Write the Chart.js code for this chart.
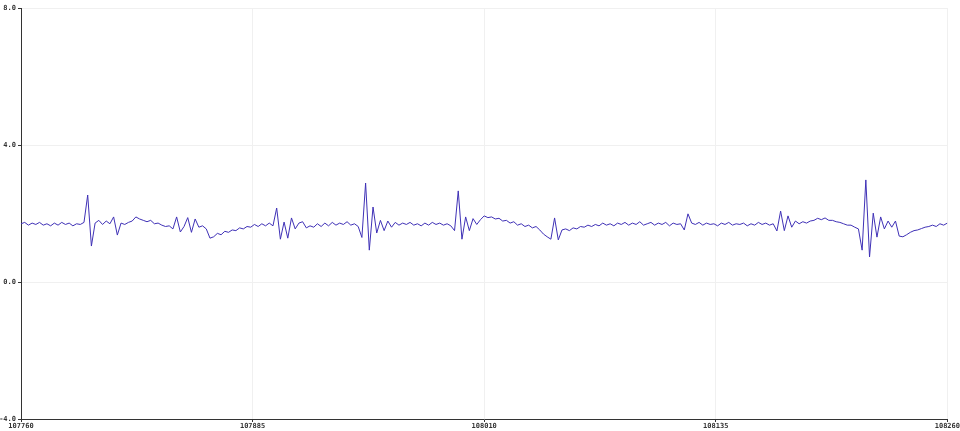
<!DOCTYPE html>
<html>
<head>
<meta charset="utf-8">
<script src="https://cdn.jsdelivr.net/npm/chart.js@4/dist/chart.umd.min.js"></script>
<style>
  html, body { margin: 0; padding: 0; background: #fff; }
  #wrap { width: 960px; height: 431px; position: relative; }
</style>
</head>
<body>
<div id="wrap"><canvas id="signalChart"></canvas></div>
<script>
// sample index range shown on the x axis (every 2nd sample)
const xStart = 107760;
const xStep = 2;
const xTicks = [107760, 107885, 108010, 108135, 108260];
const yTicks = [-4, 0, 4, 8];

const signal = [
  1.70, 1.74, 1.66, 1.72, 1.68, 1.74, 1.66, 1.70, 1.64, 1.72,
  1.66, 1.74, 1.68, 1.72, 1.64, 1.70, 1.68, 1.74, 2.54, 1.05,
  1.72, 1.80, 1.68, 1.78, 1.70, 1.90, 1.37, 1.72, 1.68, 1.74,
  1.78, 1.90, 1.84, 1.80, 1.76, 1.80, 1.70, 1.72, 1.66, 1.62,
  1.64, 1.55, 1.90, 1.46, 1.62, 1.88, 1.45, 1.84, 1.60, 1.64,
  1.55, 1.28, 1.32, 1.42, 1.38, 1.48, 1.45, 1.52, 1.50, 1.58,
  1.55, 1.62, 1.60, 1.68, 1.62, 1.70, 1.64, 1.72, 1.64, 2.16,
  1.25, 1.75, 1.28, 1.87, 1.55, 1.72, 1.76, 1.58, 1.64, 1.60,
  1.70, 1.62, 1.72, 1.64, 1.74, 1.66, 1.72, 1.68, 1.76, 1.66,
  1.70, 1.62, 1.30, 2.89, 0.93, 2.19, 1.43, 1.80, 1.50, 1.78,
  1.60, 1.74, 1.66, 1.72, 1.68, 1.74, 1.66, 1.70, 1.64, 1.72,
  1.66, 1.74, 1.68, 1.72, 1.66, 1.70, 1.64, 1.50, 2.66, 1.25,
  1.90, 1.50, 1.85, 1.68, 1.82, 1.93, 1.88, 1.90, 1.84, 1.86,
  1.78, 1.80, 1.72, 1.76, 1.66, 1.70, 1.62, 1.66, 1.58, 1.62,
  1.52, 1.40, 1.32, 1.25, 1.87, 1.23, 1.52, 1.55, 1.50, 1.58,
  1.55, 1.62, 1.60, 1.66, 1.62, 1.68, 1.64, 1.72, 1.66, 1.70,
  1.64, 1.72, 1.68, 1.74, 1.66, 1.72, 1.68, 1.76, 1.66, 1.70,
  1.74, 1.66, 1.72, 1.68, 1.74, 1.64, 1.72, 1.68, 1.70, 1.52,
  1.99, 1.72, 1.68, 1.74, 1.66, 1.72, 1.68, 1.70, 1.64, 1.72,
  1.68, 1.74, 1.66, 1.70, 1.68, 1.72, 1.64, 1.70, 1.66, 1.74,
  1.68, 1.72, 1.66, 1.70, 1.49, 2.07, 1.50, 1.93, 1.60, 1.78,
  1.70, 1.76, 1.72, 1.78, 1.80, 1.86, 1.82, 1.87, 1.80, 1.80,
  1.76, 1.74, 1.70, 1.66, 1.66, 1.60, 1.55, 0.93, 2.98, 0.73,
  2.01, 1.31, 1.90, 1.55, 1.78, 1.60, 1.78, 1.34, 1.32, 1.38,
  1.45, 1.50, 1.52, 1.56, 1.60, 1.62, 1.66, 1.62, 1.70, 1.66,
  1.72
];

const points = signal.map((v, i) => ({ x: xStart + i * xStep, y: v }));

const tickFont = { family: '"DejaVu Sans Mono", monospace', size: 7, weight: 'bold' };

new Chart(document.getElementById('signalChart'), {
  type: 'line',
  data: {
    datasets: [{
      data: points,
      borderColor: '#3f31b6',
      borderWidth: 1,
      pointRadius: 0,
      tension: 0,
      fill: false,
    }],
  },
  options: {
    responsive: true,
    maintainAspectRatio: false,
    animation: false,
    layout: { padding: { top: 8, right: 12, left: 0, bottom: 0 } },
    plugins: { legend: { display: false }, tooltip: { enabled: false } },
    scales: {
      x: {
        type: 'linear',
        min: xTicks[0],
        max: xTicks[xTicks.length - 1],
        afterBuildTicks: (scale) => { scale.ticks = xTicks.map((v) => ({ value: v })); },
        afterFit: (scale) => { scale.height = 12; },
        grid: { color: '#f0f0f0', lineWidth: 1, tickColor: '#333', tickLength: 3 },
        border: { color: '#333', width: 1 },
        ticks: {
          color: '#333',
          font: tickFont,
          padding: 0,
          maxRotation: 0,
          autoSkip: false,
          callback: (v) => String(v),
        },
      },
      y: {
        min: yTicks[0],
        max: yTicks[yTicks.length - 1],
        afterBuildTicks: (scale) => { scale.ticks = yTicks.map((v) => ({ value: v })); },
        afterFit: (scale) => { scale.width = 21; },
        grid: { color: '#f0f0f0', lineWidth: 1, tickColor: '#333', tickLength: 3 },
        border: { color: '#333', width: 1 },
        ticks: {
          color: '#333',
          font: tickFont,
          padding: 2,
          callback: (v) => Number(v).toFixed(1),
        },
      },
    },
  },
});
</script>
</body>
</html>
